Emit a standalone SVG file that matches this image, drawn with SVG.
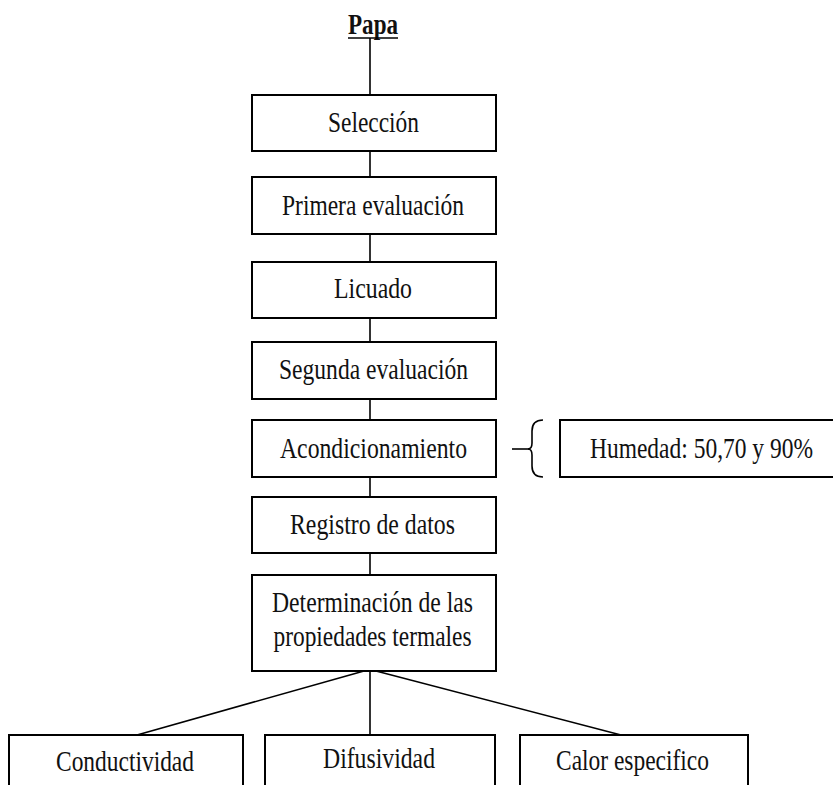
<svg xmlns="http://www.w3.org/2000/svg" width="833" height="785" viewBox="0 0 833 785">
<style>
.box{fill:#fff;stroke:#000;stroke-width:2}
.t{font-family:"Liberation Serif","Times New Roman",serif;font-size:29px;fill:#111;text-anchor:middle}
.c{stroke:#000;stroke-width:1.6;fill:none}
</style>
<rect width="833" height="785" fill="#fff"/>
<g id="connectors">
<line class="c" x1="370" y1="38" x2="370" y2="95"/>
<line class="c" x1="370" y1="151" x2="370" y2="177"/>
<line class="c" x1="370" y1="234" x2="370" y2="262"/>
<line class="c" x1="370" y1="318" x2="370" y2="342"/>
<line class="c" x1="370" y1="399" x2="370" y2="420"/>
<line class="c" x1="370" y1="477" x2="370" y2="497"/>
<line class="c" x1="370" y1="553" x2="370" y2="575"/>
<line class="c" x1="370" y1="671" x2="370" y2="735"/>
<line class="c" x1="364" y1="671" x2="137" y2="735" stroke-width="2.2"/>
<line class="c" x1="376" y1="671" x2="621" y2="735" stroke-width="2.2"/>
<line class="c" x1="512" y1="449" x2="529" y2="449" stroke-width="2.6"/>
<path class="c" d="M543,420 Q532,420 532,431 L532,443 Q532,449 528,449 Q532,449 532,455 L532,466 Q532,477 543,477" stroke-width="1.8"/>
</g>
<g id="papa">
<text class="t" x="373" y="34" font-weight="bold" textLength="50" lengthAdjust="spacingAndGlyphs">Papa</text>
<line x1="348" y1="38" x2="398" y2="38" stroke="#000" stroke-width="1.6"/>
</g>
<g id="seleccion">
<rect class="box" x="252" y="95" width="244" height="56"/>
<text class="t" x="373.5" y="132" textLength="91" lengthAdjust="spacingAndGlyphs">Selección</text>
</g>
<g id="primera">
<rect class="box" x="252" y="177" width="244" height="57"/>
<text class="t" x="373" y="215" textLength="182" lengthAdjust="spacingAndGlyphs">Primera evaluación</text>
</g>
<g id="licuado">
<rect class="box" x="252" y="262" width="244" height="56"/>
<text class="t" x="373" y="298" textLength="78" lengthAdjust="spacingAndGlyphs">Licuado</text>
</g>
<g id="segunda">
<rect class="box" x="252" y="342" width="244" height="57"/>
<text class="t" x="373.5" y="379" textLength="189" lengthAdjust="spacingAndGlyphs">Segunda evaluación</text>
</g>
<g id="acondicionamiento">
<rect class="box" x="252" y="420" width="244" height="57"/>
<text class="t" x="373.5" y="458" textLength="187" lengthAdjust="spacingAndGlyphs">Acondicionamiento</text>
</g>
<g id="humedad">
<rect class="box" x="560" y="420" width="282" height="57"/>
<text class="t" x="701.5" y="458" textLength="223" lengthAdjust="spacingAndGlyphs">Humedad: 50,70 y 90%</text>
</g>
<g id="registro">
<rect class="box" x="252" y="497" width="244" height="56"/>
<text class="t" x="372.5" y="534" textLength="165" lengthAdjust="spacingAndGlyphs">Registro de datos</text>
</g>
<g id="determinacion">
<rect class="box" x="252" y="575" width="244" height="96"/>
<text class="t" x="372.5" y="612" textLength="201" lengthAdjust="spacingAndGlyphs">Determinación de las</text>
<text class="t" x="372.5" y="646" textLength="198" lengthAdjust="spacingAndGlyphs">propiedades termales</text>
</g>
<g id="conductividad">
<rect class="box" x="9" y="735" width="234" height="70"/>
<text class="t" x="125" y="771" textLength="138" lengthAdjust="spacingAndGlyphs">Conductividad</text>
</g>
<g id="difusividad">
<rect class="box" x="265" y="735" width="230" height="70"/>
<text class="t" x="379" y="768" textLength="112" lengthAdjust="spacingAndGlyphs">Difusividad</text>
</g>
<g id="calor">
<rect class="box" x="520" y="735" width="228" height="70"/>
<text class="t" x="632.5" y="770" textLength="153" lengthAdjust="spacingAndGlyphs">Calor especifico</text>
</g>
</svg>
